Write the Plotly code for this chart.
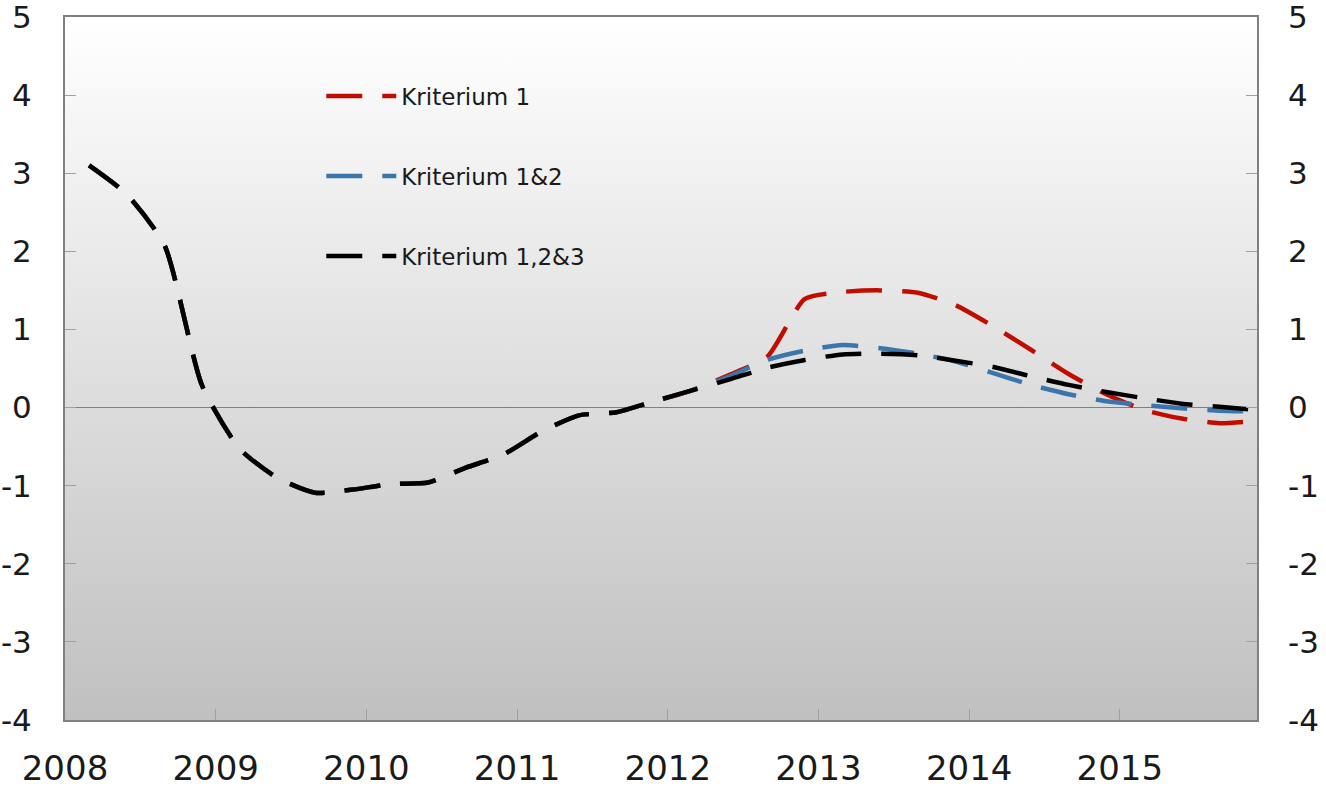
import base64
import plotly.graph_objects as go

# ---- data (quarterly, 2008Q1 .. 2015Q4) ----
years = list(range(2008, 2016))
quarter_offset = 0.16  # plotting position within each quarter
x_vals = [y + quarter_offset + 0.25 * q for y in years for q in range(4)]

kriterium_123 = [3.10, 2.73, 2.08, 0.28, -0.53, -0.90, -1.09, -1.05,
                 -0.98, -0.96, -0.77, -0.60, -0.31, -0.10, -0.06, 0.08,
                 0.22, 0.36, 0.51, 0.61, 0.68, 0.69, 0.67, 0.60,
                 0.52, 0.40, 0.29, 0.20, 0.12, 0.05, 0.01, -0.03]

kriterium_12 = [3.10, 2.73, 2.08, 0.28, -0.53, -0.90, -1.09, -1.05,
                -0.98, -0.96, -0.77, -0.60, -0.31, -0.10, -0.06, 0.08,
                0.22, 0.40, 0.61, 0.73, 0.80, 0.76, 0.69, 0.59,
                0.44, 0.29, 0.17, 0.08, 0.03, -0.01, -0.04, -0.05]

kriterium_1 = [3.10, 2.73, 2.08, 0.28, -0.53, -0.90, -1.09, -1.05,
               -0.98, -0.96, -0.77, -0.60, -0.31, -0.10, -0.06, 0.08,
               0.22, 0.42, 0.65, 1.39, 1.48, 1.50, 1.47, 1.31,
               1.04, 0.74, 0.43, 0.17, -0.03, -0.14, -0.20, -0.17]

series_names = ["Kriterium 1", "Kriterium 1&2", "Kriterium 1,2&3"]
series_colors = ["#c00d00", "#3a76ab", "#000000"]
series_values = [kriterium_1, kriterium_12, kriterium_123]
series_yaxis = ["y", "y", "y2"]

x_tick_vals = years
x_tick_text = [str(y) for y in years]
y_tick_vals = list(range(-4, 6))
y_tick_text = [str(v) for v in y_tick_vals]  # plain hyphen minus
y_range = [-4, 5]
x_range = [2008, 2015.91]

FONT = "DejaVu Sans"

fig = go.Figure()
for name, color, vals, ya in zip(series_names, series_colors, series_values, series_yaxis):
    fig.add_trace(go.Scatter(
        x=x_vals, y=vals, name=name, mode="lines", yaxis=ya,
        line=dict(color=color, width=4.5, dash="36px,20px", shape="spline", smoothing=0.6),
        legendgroup=name,
    ))

# vertical gradient background (white top -> grey bottom)
svg = ("<svg xmlns='http://www.w3.org/2000/svg' width='10' height='100' viewBox='0 0 10 100' "
       "preserveAspectRatio='none'><defs><linearGradient id='g' x1='0' y1='0' x2='0' y2='1'>"
       "<stop offset='0' stop-color='#ffffff'/><stop offset='1' stop-color='#c0c0c0'/>"
       "</linearGradient></defs><rect x='0' y='0' width='10' height='100' fill='url(#g)'/></svg>")
svg_uri = "data:image/svg+xml;base64," + base64.b64encode(svg.encode()).decode()

tick_common = dict(ticks="inside", ticklen=11, tickcolor="#a0a0a0", tickwidth=1,
                   showgrid=False, automargin=False, ticklabeloverflow="allow")

fig.update_layout(
    width=1326, height=787,
    margin=dict(l=65, r=69, t=17, b=67),
    paper_bgcolor="white",
    plot_bgcolor="rgba(0,0,0,0)",
    images=[dict(source=svg_uri, xref="paper", yref="paper", x=0, y=1, sizex=1, sizey=1,
                 xanchor="left", yanchor="top", sizing="stretch", layer="below")],
    showlegend=True,
    legend=dict(x=0.215, y=0.918, xanchor="left", yanchor="top",
                bgcolor="rgba(0,0,0,0)", borderwidth=0, itemwidth=70,
                font=dict(family=FONT, size=23, color="#1a1a1a"),
                tracegroupgap=47, traceorder="grouped"),
    xaxis=dict(range=x_range, tickvals=x_tick_vals, ticktext=x_tick_text,
               zeroline=False,
               showline=True, linecolor="#808080", linewidth=2, mirror=True,
               tickfont=dict(family=FONT, size=34, color="#1a1a1a"),
               ticklabelstandoff=17, **tick_common),
    yaxis=dict(range=y_range, tickvals=y_tick_vals, ticktext=y_tick_text,
               zeroline=True, zerolinecolor="#808080", zerolinewidth=1,
               showline=True, linecolor="#808080", linewidth=2, mirror=True,
               tickfont=dict(family=FONT, size=31, color="#1a1a1a"),
               ticklabelstandoff=25, **tick_common),
    yaxis2=dict(range=y_range, tickvals=y_tick_vals, ticktext=y_tick_text,
                matches="y", overlaying="y", side="right",
                zeroline=False, showline=False,
                tickfont=dict(family=FONT, size=31, color="#1a1a1a"),
                ticklabelstandoff=30, **tick_common),
)

# remove the default 8px page margin so the figure fills the window exactly
fig.write_html("out.html", config={"displayModeBar": False},
               post_script="document.body.style.margin='0';")
